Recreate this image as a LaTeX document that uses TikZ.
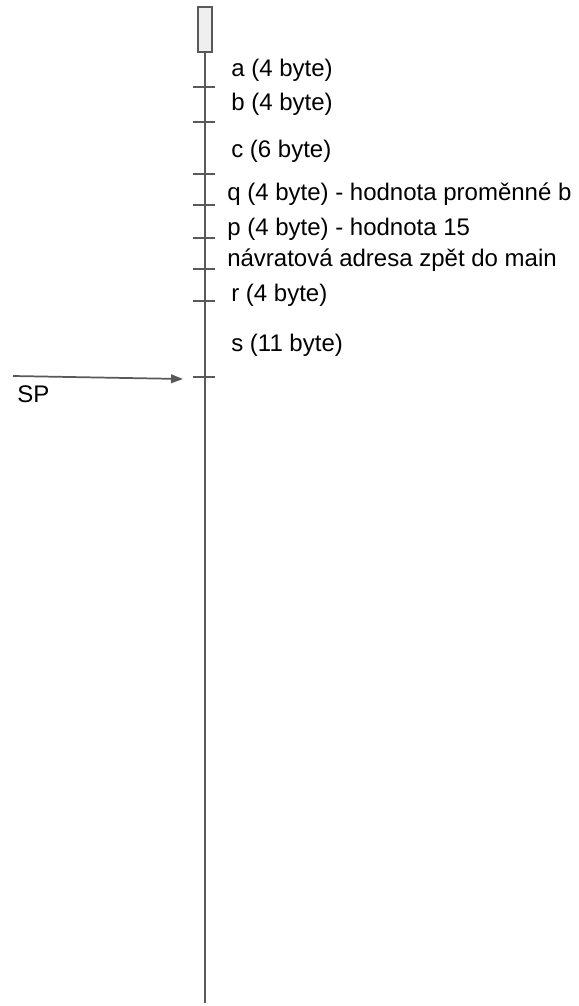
\documentclass[tikz,border=0pt]{standalone}
\usepackage{fontspec}
\setmainfont{Liberation Sans}
\usepackage{tikz}
\usetikzlibrary{arrows.meta}
\definecolor{linegray}{HTML}{595959}
\definecolor{boxgray}{HTML}{EFEFEF}
\tikzstyle{stack} = [draw=linegray, line width=1.4pt]
\tikzstyle{topbox} = [draw=linegray, line width=1.2pt, fill=boxgray, minimum width=10.5pt, minimum height=33.75pt, inner sep=0pt]
\tikzstyle{lbl} = [anchor=base west, inner sep=0pt, font={\fontsize{18}{22}\selectfont}]
\tikzstyle{ptr} = [draw=linegray, line width=1.3pt, -{Triangle[length=9pt,width=6.5pt]}]

\begin{document}
\begin{tikzpicture}[x=0.75pt,y=-0.75pt]
    \useasboundingbox (0,0) rectangle (578,1006);
    \node[topbox](top) at (205,29.5){};
    \coordinate (bottom) at (205,1003);
    \draw[stack](top.south)--(bottom);
    \foreach \y in {87,122,174,205,238,269,301,377}
        \draw[stack](193,\y)--(215,\y);
    \node[lbl](a) at (231,77){a (4 byte)};
    \node[lbl](b) at (231,110){b (4 byte)};
    \node[lbl](c) at (231,157){c (6 byte)};
    \node[lbl](q) at (227,200){q (4 byte) - hodnota proměnné b};
    \node[lbl](p) at (227,235){p (4 byte) - hodnota 15};
    \node[lbl](ret) at (227,266){návratová adresa zpět do main};
    \node[lbl](r) at (231,301){r (4 byte)};
    \node[lbl](s) at (231,351){s (11 byte)};
    \node[lbl](sp) at (17,402){SP};
    \coordinate (spfrom) at (13,376);
    \coordinate (spto) at (183,379);
    \draw[ptr](spfrom)--(spto);
\end{tikzpicture}
\end{document}
